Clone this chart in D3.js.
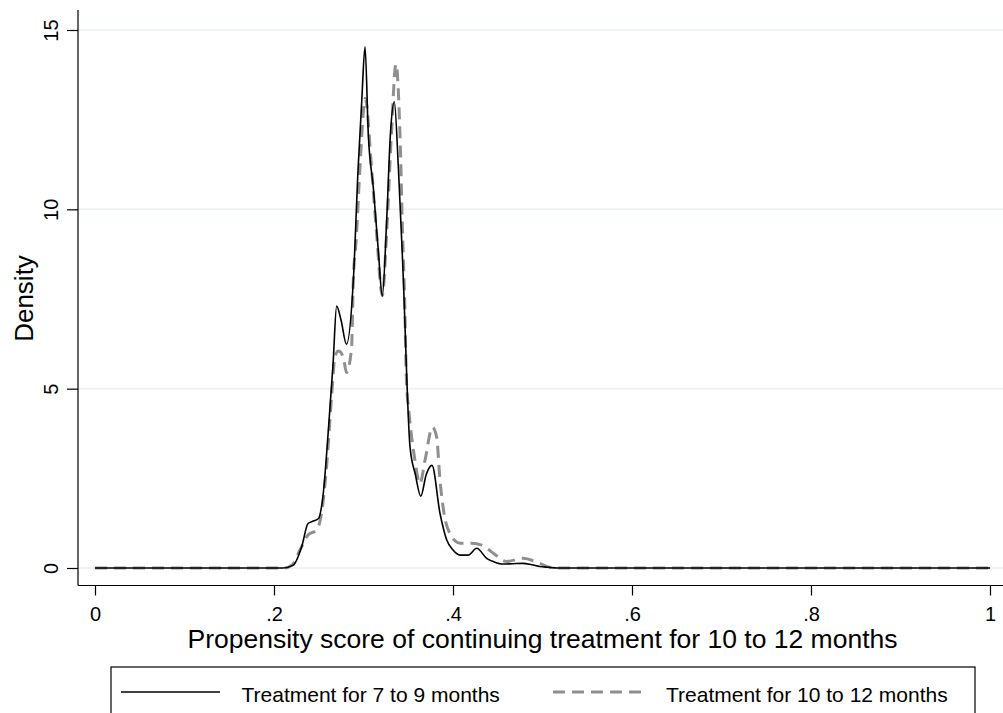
<!DOCTYPE html>
<html><head><meta charset="utf-8">
<script src="https://cdn.jsdelivr.net/npm/d3@7"></script>
<style>body{margin:0;background:#fff}svg{display:block;font-family:"Liberation Sans",Arial,sans-serif}</style>
</head><body>
<svg id="c" width="1003" height="713"></svg>
<script>
// Series 1: Treatment for 7 to 9 months (solid)
const x1 = [0, 0.21, 0.2216, 0.231, 0.238, 0.244, 0.2497, 0.255, 0.2607, 0.266, 0.270, 0.275, 0.281, 0.2886, 0.294, 0.298, 0.3017, 0.3054, 0.311, 0.3166, 0.321, 0.326, 0.330, 0.3344, 0.339, 0.344, 0.352, 0.358, 0.364, 0.370, 0.3765, 0.3855, 0.393, 0.400, 0.408, 0.417, 0.4265, 0.4376, 0.446, 0.456, 0.467, 0.478, 0.488, 0.497, 0.507, 0.516, 1];
const y1 = [0, 0, 0.08, 0.6, 1.24, 1.31, 1.38, 2.07, 3.83, 5.69, 7.3, 6.9, 6.24, 8.0, 11.15, 13.0, 14.53, 12.07, 10.6, 8.83, 7.58, 9.76, 12.07, 13.0, 11.15, 8.37, 3.37, 2.6, 2.0, 2.6, 2.86, 1.52, 0.78, 0.5, 0.36, 0.36, 0.55, 0.27, 0.17, 0.11, 0.12, 0.13, 0.09, 0.04, 0.02, 0, 0];
// Series 2: Treatment for 10 to 12 months (dashed)
const x2 = [0, 0.2104, 0.22, 0.229, 0.238, 0.2477, 0.253, 0.259, 0.2643, 0.268, 0.272, 0.2775, 0.281, 0.2867, 0.2886, 0.292, 0.296, 0.302, 0.309, 0.3147, 0.321, 0.326, 0.331, 0.3363, 0.3408, 0.3437, 0.346, 0.348, 0.351, 0.3575, 0.363, 0.3687, 0.377, 0.3817, 0.3855, 0.39, 0.3966, 0.408, 0.421, 0.432, 0.445, 0.46, 0.478, 0.497, 0.508, 0.516, 1];
const y2 = [0, 0, 0.08, 0.5, 0.92, 1.06, 1.52, 2.9, 4.76, 5.87, 6.05, 5.87, 5.45, 6.15, 8.0, 9.2, 11.15, 13.1, 11.15, 9.3, 7.6, 9.4, 12.0, 14.05, 12.07, 9.3, 7.44, 5.22, 4.3, 3.0, 2.35, 3.0, 3.93, 3.65, 2.44, 1.52, 0.96, 0.69, 0.69, 0.64, 0.41, 0.18, 0.27, 0.13, 0.02, 0, 0];
const xTicks = [0, 0.2, 0.4, 0.6, 0.8, 1];
const xTickLabels = ["0", ".2", ".4", ".6", ".8", "1"];
const yTicks = [0, 5, 10, 15];
const seriesNames = ["Treatment for 7 to 9 months", "Treatment for 10 to 12 months"];

const svg = d3.select("#c");
const x = d3.scaleLinear().domain([0, 1]).range([95, 990]);
const y = d3.scaleLinear().domain([0, 15]).range([568, 30]);
const pLeft = 78, pBottom = 585.5, pRight = 1003, pTop = 10;

// gridlines
svg.append("g").selectAll("line").data(yTicks).join("line")
  .attr("x1", pLeft).attr("x2", pRight).attr("y1", d => y(d)).attr("y2", d => y(d))
  .attr("stroke", "#e8f0f2").attr("stroke-width", 1.5);

// y axis
const ya = svg.append("g").attr("transform", `translate(${pLeft},0)`)
  .call(d3.axisLeft(y).tickValues(yTicks).tickSize(11).tickFormat(d3.format("d")));
ya.select(".domain").remove();
ya.selectAll(".tick line").attr("stroke", "#000").attr("stroke-width", 1.2);
ya.selectAll(".tick text").attr("font-size", 20).attr("fill", "#000")
  .attr("x", null).attr("dy", null)
  .attr("text-anchor", "middle")
  .attr("transform", "translate(-20.5,0) rotate(-90)");
svg.append("line").attr("x1", pLeft).attr("x2", pLeft).attr("y1", pTop).attr("y2", pBottom).attr("stroke", "#000").attr("stroke-width", 1.2);

// x axis
const xa = svg.append("g").attr("transform", `translate(0,${pBottom})`)
  .call(d3.axisBottom(x).tickValues(xTicks).tickSize(10).tickFormat((d, i) => xTickLabels[i]));
xa.select(".domain").remove();
xa.selectAll(".tick line").attr("stroke", "#000").attr("stroke-width", 1.2);
xa.selectAll(".tick text").attr("font-size", 20).attr("fill", "#000")
  .attr("y", 35.5).attr("dy", null);
svg.append("line").attr("x1", pLeft).attr("x2", pRight).attr("y1", pBottom).attr("y2", pBottom).attr("stroke", "#000").attr("stroke-width", 1.2);

// axis titles
svg.append("text").attr("x", 542.5).attr("y", 648).attr("text-anchor", "middle")
  .attr("font-size", 26.5).text("Propensity score of continuing treatment for 10 to 12 months");
svg.append("text").attr("transform", "translate(33,298.5) rotate(-90)").attr("text-anchor", "middle")
  .attr("font-size", 26).text("Density");

// lines
const line = d3.line().x(d => x(d[0])).y(d => y(d[1])).curve(d3.curveMonotoneX);
svg.append("path").datum(d3.zip(x2, y2)).attr("d", line).attr("fill", "none")
  .attr("stroke", "#8f8f8f").attr("stroke-width", 3).attr("stroke-dasharray", "12,7");
svg.append("path").datum(d3.zip(x1, y1)).attr("d", line).attr("fill", "none")
  .attr("stroke", "#000").attr("stroke-width", 1.6);

// legend
svg.append("rect").attr("x", 111).attr("y", 667).attr("width", 864).attr("height", 60)
  .attr("fill", "#fff").attr("stroke", "#000").attr("stroke-width", 1.2);
svg.append("line").attr("x1", 121).attr("x2", 220).attr("y1", 692).attr("y2", 692).attr("stroke", "#000").attr("stroke-width", 1.6);
svg.append("text").attr("x", 241.5).attr("y", 702).attr("font-size", 21).text(seriesNames[0]);
svg.append("line").attr("x1", 553).attr("x2", 647).attr("y1", 692).attr("y2", 692).attr("stroke", "#8f8f8f").attr("stroke-width", 3).attr("stroke-dasharray", "12,7");
svg.append("text").attr("x", 666).attr("y", 702).attr("font-size", 21).text(seriesNames[1]);
</script>
</body></html>
